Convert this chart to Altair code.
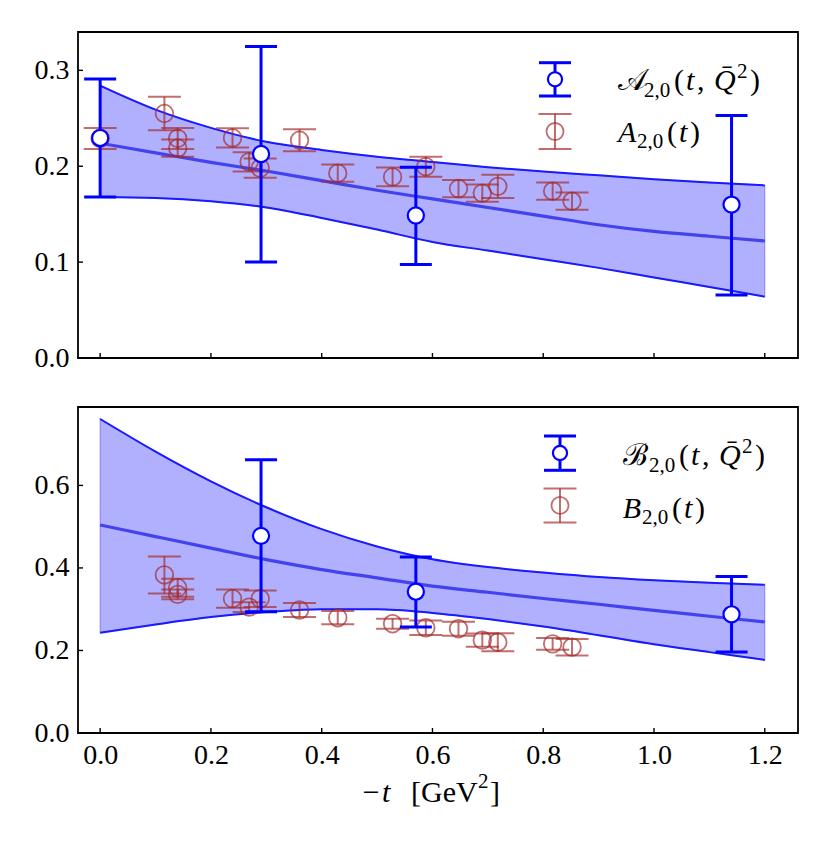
import altair as alt
import pandas as pd

# ---------------- data ----------------
band_t = [0.0, 0.1, 0.2, 0.3, 0.4, 0.5, 0.6, 0.7, 0.8, 0.9, 1.0, 1.1, 1.2]

a_band_hi = [0.284, 0.259, 0.240, 0.2255, 0.217, 0.210, 0.2045, 0.199, 0.1945, 0.1905, 0.1865, 0.183, 0.180]
a_band_mid = [0.224, 0.214, 0.204, 0.195, 0.185, 0.175, 0.166, 0.157, 0.148, 0.139, 0.132, 0.127, 0.122]
a_band_lo = [0.168, 0.167, 0.1635, 0.157, 0.146, 0.134, 0.121, 0.112, 0.103, 0.094, 0.084, 0.074, 0.064]

b_band_hi = [0.761, 0.682, 0.610, 0.547, 0.494, 0.452, 0.421, 0.402, 0.389, 0.378, 0.370, 0.364, 0.359]
b_band_mid = [0.504, 0.476, 0.448, 0.420, 0.396, 0.376, 0.356, 0.341, 0.326, 0.312, 0.297, 0.283, 0.269]
b_band_lo = [0.243, 0.263, 0.281, 0.293, 0.300, 0.300, 0.291, 0.276, 0.258, 0.237, 0.215, 0.196, 0.177]

A_t = [0.0, 0.2905, 0.570, 1.140]
A_val = [0.2295, 0.2128, 0.1486, 0.160]
A_lo = [0.168, 0.100, 0.0976, 0.0656]
A_hi = [0.291, 0.325, 0.199, 0.253]

B_t = [0.2905, 0.570, 1.140]
B_val = [0.4777, 0.3425, 0.2876]
B_lo = [0.294, 0.2568, 0.196]
B_hi = [0.662, 0.4267, 0.379]

lat_t_A = [0.0, 0.116, 0.140, 0.140, 0.239, 0.269, 0.289, 0.360, 0.429, 0.528, 0.588,
           0.647, 0.690, 0.718, 0.817, 0.852]
lat_A = [0.229, 0.255, 0.229, 0.219, 0.2295, 0.2045, 0.198, 0.2271, 0.1927, 0.1889, 0.1995,
         0.1767, 0.172, 0.179, 0.174, 0.1635]
lat_A_err = [0.011, 0.0175, 0.011, 0.009, 0.010, 0.010, 0.010, 0.0115, 0.009, 0.0097, 0.0105,
             0.009, 0.009, 0.012, 0.009, 0.009]

lat_t_B = [0.116, 0.140, 0.140, 0.239, 0.269, 0.289, 0.360, 0.429, 0.528, 0.588,
           0.647, 0.690, 0.718, 0.817, 0.852]
lat_B = [0.383, 0.352, 0.336, 0.3256, 0.305, 0.3256, 0.298, 0.2794, 0.2648, 0.255,
         0.2527, 0.225, 0.220, 0.216, 0.208]
lat_B_err = [0.045, 0.022, 0.012, 0.022, 0.012, 0.020, 0.017, 0.016, 0.012, 0.0174,
             0.017, 0.016, 0.022, 0.014, 0.020]

x_ticks = [0.0, 0.2, 0.4, 0.6, 0.8, 1.0, 1.2]
a_yticks = [0.0, 0.1, 0.2, 0.3]
b_yticks = [0.0, 0.2, 0.4, 0.6]

# ---------------- styling ----------------
FONT = "Liberation Serif"
BLUE = "#0000ff"
RED = "#a52a2a"
RED_OP = 0.68
W, H = 720, 326
FS = 28
LFS = 30
SUB = 21

one = pd.DataFrame({"k": [0]})


def band_df(lo, mid, hi):
    return pd.DataFrame({"t": band_t, "lo": lo, "mid": mid, "hi": hi})


def text_piece(txt, x, y, size=FS, style="normal"):
    return alt.Chart(one).mark_text(
        text=txt, align="left", baseline="alphabetic", font=FONT,
        fontSize=size, fontStyle=style, color="black"
    ).encode(x=alt.value(x), y=alt.value(y))


def legend_symbols(xc, rows):
    layers = []
    (c1, t1, b1), (c2, t2, b2) = rows
    # blue entry
    layers.append(alt.Chart(one).mark_rule(color=BLUE, strokeWidth=3).encode(
        x=alt.value(xc), y=alt.value(t1), y2=alt.value(b1)))
    for yy in (t1, b1):
        layers.append(alt.Chart(one).mark_tick(orient="horizontal", color=BLUE, size=32,
                                               thickness=3, opacity=1).encode(
            x=alt.value(xc), y=alt.value(yy)))
    layers.append(alt.Chart(one).mark_point(shape="circle", filled=True, fill="white",
                                            stroke=BLUE, strokeWidth=2.2, size=200,
                                            opacity=1).encode(
        x=alt.value(xc), y=alt.value(c1)))
    # red entry
    layers.append(alt.Chart(one).mark_rule(color=RED, strokeWidth=2, opacity=RED_OP).encode(
        x=alt.value(xc), y=alt.value(t2), y2=alt.value(b2)))
    for yy in (t2, b2):
        layers.append(alt.Chart(one).mark_tick(orient="horizontal", color=RED, size=33,
                                               thickness=2, opacity=RED_OP).encode(
            x=alt.value(xc), y=alt.value(yy)))
    layers.append(alt.Chart(one).mark_point(shape="circle", filled=False, stroke=RED,
                                            strokeWidth=1.8, size=290, opacity=RED_OP).encode(
        x=alt.value(xc), y=alt.value(c2)))
    return layers


def panel(bdf, bt, bv, blo, bhi, lt, lv, lerr, ydom, yticks, show_x, legend_layers):
    xs = alt.Scale(domain=[-0.04, 1.26], nice=False, zero=False)
    ys = alt.Scale(domain=ydom, nice=False, zero=False)
    if show_x:
        x_axis = alt.Axis(values=x_ticks, format=".1f", ticks=False, domain=False, grid=False,
                          labelFont=FONT, labelFontSize=FS, labelPadding=8, labelColor="black",
                          labelFlush=False, labelOverlap=False, title=None)
    else:
        x_axis = None
    y_axis = alt.Axis(values=yticks, format=".1f", ticks=False, domain=False, grid=False,
                      labelFont=FONT, labelFontSize=FS, labelPadding=9, labelColor="black",
                      labelFlush=False, labelOverlap=False, title=None)

    def X(f):
        return alt.X(f, type="quantitative", scale=xs, axis=x_axis, title=None)

    def Y(f):
        return alt.Y(f, type="quantitative", scale=ys, axis=y_axis, title=None)

    blue = pd.DataFrame({"t": bt, "v": bv, "lo": blo, "hi": bhi})
    red = pd.DataFrame({"t": lt, "v": lv,
                        "lo": [v - e for v, e in zip(lv, lerr)],
                        "hi": [v + e for v, e in zip(lv, lerr)]})
    xt = pd.DataFrame({"t": x_ticks})
    yt = pd.DataFrame({"v": yticks})

    base_band = alt.Chart(bdf)
    layers = [
        base_band.mark_area(fill=BLUE, fillOpacity=0.31, stroke=BLUE, strokeOpacity=0.25,
                            strokeWidth=1.5, interpolate="monotone").encode(
            x=X("t"), y=Y("lo"), y2=alt.Y2("hi")),
        base_band.mark_line(color="#1a1aff", strokeWidth=2, interpolate="monotone").encode(
            x=X("t"), y=Y("hi")),
        base_band.mark_line(color="#1a1aff", strokeWidth=2, interpolate="monotone").encode(
            x=X("t"), y=Y("lo")),
        base_band.mark_line(color="#4242ee", strokeWidth=3.2, interpolate="monotone").encode(
            x=X("t"), y=Y("mid")),
        alt.Chart(red).mark_rule(color=RED, strokeWidth=2, opacity=RED_OP).encode(
            x=X("t"), y=Y("lo"), y2=alt.Y2("hi")),
        alt.Chart(red).mark_tick(orient="horizontal", color=RED, size=33, thickness=2,
                                 opacity=RED_OP).encode(x=X("t"), y=Y("lo")),
        alt.Chart(red).mark_tick(orient="horizontal", color=RED, size=33, thickness=2,
                                 opacity=RED_OP).encode(x=X("t"), y=Y("hi")),
        alt.Chart(red).mark_point(shape="circle", filled=False, stroke=RED, strokeWidth=1.8,
                                  size=310, opacity=RED_OP).encode(x=X("t"), y=Y("v")),
        alt.Chart(blue).mark_rule(color=BLUE, strokeWidth=3).encode(
            x=X("t"), y=Y("lo"), y2=alt.Y2("hi")),
        alt.Chart(blue).mark_tick(orient="horizontal", color=BLUE, size=32, thickness=3,
                                  opacity=1).encode(x=X("t"), y=Y("lo")),
        alt.Chart(blue).mark_tick(orient="horizontal", color=BLUE, size=32, thickness=3,
                                  opacity=1).encode(x=X("t"), y=Y("hi")),
        alt.Chart(blue).mark_point(shape="circle", filled=True, fill="white", stroke=BLUE,
                                   strokeWidth=2.2, size=260, opacity=1).encode(
            x=X("t"), y=Y("v")),
        # inward ticks
        alt.Chart(xt).mark_rule(color="black", strokeWidth=1.4).encode(
            x=X("t"), y=alt.value(H - 5), y2=alt.value(H)),
        alt.Chart(yt).mark_rule(color="black", strokeWidth=1.4).encode(
            y=Y("v"), x=alt.value(0), x2=alt.value(5)),
    ]
    layers += legend_layers
    return alt.layer(*layers).properties(width=W, height=H)


# legends (decoration, pixel placement inside each panel)
top_legend = legend_symbols(477, [(47.3, 30.7, 64), (99.5, 82, 117)]) + [
    text_piece("\U0001D49C", 540, 58.3, LFS),
    text_piece("2,0", 566, 65, SUB),
    text_piece("(", 596, 58.3, LFS),
    text_piece("t", 608, 58.3, LFS, "italic"),
    text_piece(",", 619, 58.3, LFS),
    text_piece("Q\u0304", 636, 58.3, LFS, "italic"),
    text_piece("2", 659, 46, SUB),
    text_piece(")", 672, 58.3, LFS),
    text_piece("A", 540, 109.5, LFS, "italic"),
    text_piece("2,0", 559, 116, SUB),
    text_piece("(", 589, 109.5, LFS),
    text_piece("t", 601, 109.5, LFS, "italic"),
    text_piece(")", 612, 109.5, LFS),
]

bot_legend = legend_symbols(482, [(46, 29, 63.3), (98.3, 81.6, 115.6)]) + [
    text_piece("\u212C", 544.7, 58.3, LFS),
    text_piece("2,0", 571, 65, SUB),
    text_piece("(", 601, 58.3, LFS),
    text_piece("t", 613, 58.3, LFS, "italic"),
    text_piece(",", 624, 58.3, LFS),
    text_piece("Q\u0304", 641, 58.3, LFS, "italic"),
    text_piece("2", 664, 46, SUB),
    text_piece(")", 677, 58.3, LFS),
    text_piece("B", 544.7, 110.5, LFS, "italic"),
    text_piece("2,0", 564, 117, SUB),
    text_piece("(", 594, 110.5, LFS),
    text_piece("t", 606, 110.5, LFS, "italic"),
    text_piece(")", 617, 110.5, LFS),
    # x-axis title  -t [GeV^2]
    text_piece("\u2212", 284.7, 395, LFS),
    text_piece("t", 304, 395, LFS, "italic"),
    text_piece("[GeV", 333, 395, LFS),
    text_piece("2", 400, 381, SUB),
    text_piece("]", 412, 395, LFS),
]

top = panel(band_df(a_band_lo, a_band_mid, a_band_hi), A_t, A_val, A_lo, A_hi,
            lat_t_A, lat_A, lat_A_err, [0, 0.34], a_yticks, False, top_legend)
bottom = panel(band_df(b_band_lo, b_band_mid, b_band_hi), B_t, B_val, B_lo, B_hi,
               lat_t_B, lat_B, lat_B_err, [0, 0.79], b_yticks, True, bot_legend)

chart = alt.vconcat(top, bottom, spacing=49, bounds="flush").properties(
    padding={"left": 25, "top": 23, "right": 5, "bottom": 5}
).configure(font=FONT).configure_view(stroke="black", strokeWidth=1.8)

chart.save("out.html", embed_options={"renderer": "svg", "actions": False})
